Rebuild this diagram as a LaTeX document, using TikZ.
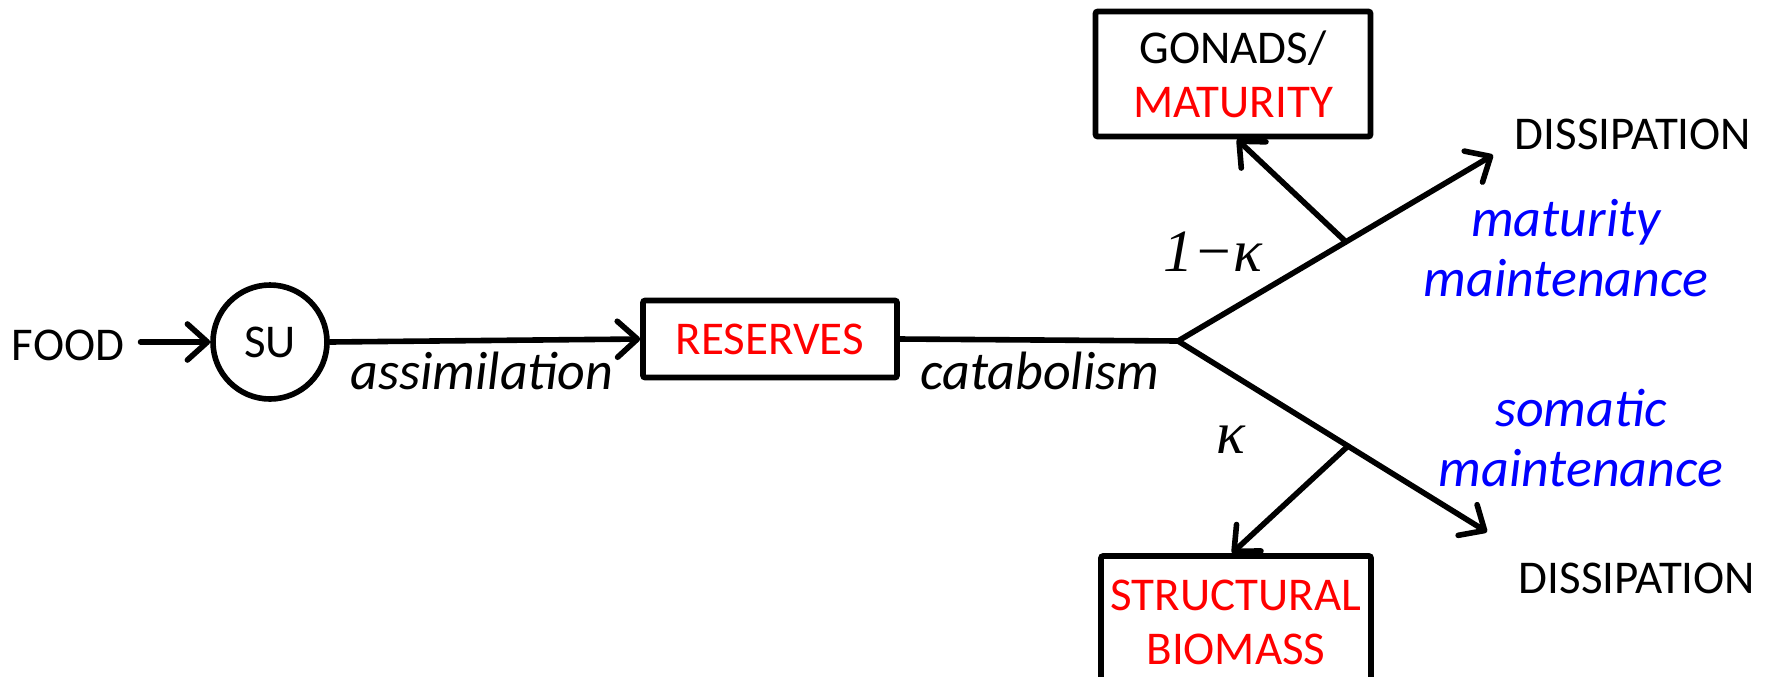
\documentclass[tikz,border=0pt]{standalone}
\usepackage{fontspec}
\setmainfont{Carlito}
\newfontfamily\tnr{Liberation Serif}
\usetikzlibrary{arrows.meta,calc}
\begin{document}
\begin{tikzpicture}[x=0.5pt,y=-0.5pt,
  every node/.style={font=\fontsize{23.5}{27}\selectfont, inner sep=0pt},
  lbl/.style={font=\fontsize{27}{30}\selectfont\itshape},
  blu/.style={lbl, text=blue, align=center},
  greek/.style={font=\fontsize{30}{34}\selectfont\tnr\itshape},
  boxnode/.style={draw, line width=2.8pt, rounded corners=1pt, align=center},
  flow/.style={line width=2.8pt, line cap=round, line join=round},
  arr/.style={flow, -{Straight Barb[length=10pt,width=18pt,line width=2.8pt,line cap=round,line join=round]}},
]
\useasboundingbox (0,0) rectangle (1776,676);
\clip (0,0) rectangle (1776,676);

\node (food) at (68,345) {FOOD};
\node[draw, circle, line width=2.8pt, minimum size=57pt] (su) at (270,342) {SU};
\node[boxnode, minimum width=127pt, minimum height=38.5pt, text=red] (res) at (770,339) {RESERVES};
\node[boxnode, minimum width=137.5pt, minimum height=62.5pt] (gon) at (1233,74)
  {GONADS/\\\textcolor{red}{MATURITY}};
\node[boxnode, minimum width=135pt, minimum height=66pt, text=red] (str) at (1236,622)
  {STRUCTURAL\\BIOMASS};
\node (dis1) at (1633,134) {DISSIPATION};
\node (dis2) at (1637,578) {DISSIPATION};

\coordinate (fs) at ([xshift=8pt]food.east);
\coordinate (br) at (1178,341);
\coordinate (t1) at (1493,155);
\coordinate (t2) at (1487,532);
\coordinate (m1) at ($(br)!0.533!(t1)$);
\coordinate (m2) at ($(br)!0.55!(t2)$);

\draw[arr] (fs |- su.west) -- (su.west);
\draw[arr] (su.east) -- (res.west);
\draw[flow] (res.east) -- (br);
\draw[arr] (br) -- (t1);
\draw[arr] (br) -- (t2);
\draw[arr] (m1) -- ([xshift=2pt]gon.south);
\draw[arr] (m2) -- ([xshift=-2pt]str.north);

\node[lbl] (assim) at (482,371) {assimilation};
\node[lbl] (catab) at (1040,371) {catabolism};
\node[blu] (matm) at (1566,248) {maturity\\maintenance};
\node[blu] (somm) at (1581,438) {somatic\\maintenance};
\node[greek] (omk) at (1213,252) {1−κ};
\node[greek] (kap) at (1231,440) {κ};
\end{tikzpicture}
\end{document}
